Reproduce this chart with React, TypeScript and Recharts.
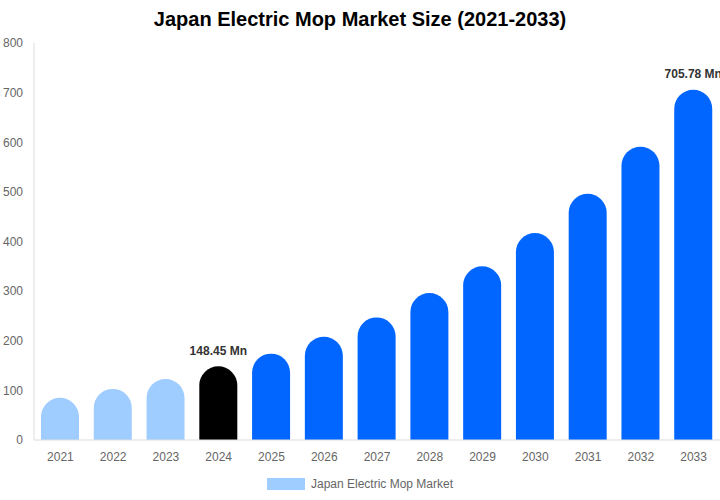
import React from "react";
import { BarChart, Bar, XAxis, YAxis, Cell, LabelList, Legend } from "recharts";

const years = ["2021","2022","2023","2024","2025","2026","2027","2028","2029","2030","2031","2032","2033"];
const values = [85, 103, 123, 148.45, 174, 208, 247, 296, 350, 417, 496, 591, 705.78];
const barColors = ["#A0CDFF","#A0CDFF","#A0CDFF","#000000","#0066FF","#0066FF","#0066FF","#0066FF","#0066FF","#0066FF","#0066FF","#0066FF","#0066FF"];
const labelled = [3, 12];
const yTicks = [0, 100, 200, 300, 400, 500, 600, 700, 800];
const seriesName = "Japan Electric Mop Market";
const title = "Japan Electric Mop Market Size (2021-2033)";

const data = years.map((y, i) => ({ year: y, value: values[i] }));

const TopLabel = (props: any) => {
  const { x, y, width, index, value } = props;
  if (!labelled.includes(index)) return null;
  return (
    <text x={x + width / 2} y={y - 15} textAnchor="middle" dominantBaseline="middle"
      fill="#333" fontSize={12} fontWeight="bold" fontFamily="Liberation Sans, Arial, sans-serif">
      {`${value} Mn`}
    </text>
  );
};

const LegendContent = () => (
  <div style={{ display: "flex", justifyContent: "center", alignItems: "center", fontFamily: "Liberation Sans, Arial, sans-serif", fontSize: 12, color: "#666" }}>
    <span style={{ display: "inline-block", width: 38, height: 12, background: "#A0CDFF", marginRight: 6 }} />
    <span>{seriesName}</span>
  </div>
);

export default function App() {
  return (
    <div style={{ position: "absolute", left: 0, top: 0, width: 720, height: 500, background: "#fff", fontFamily: "Liberation Sans, Arial, sans-serif" }}>
      <div style={{ position: "absolute", left: 0, top: 8, width: 720, textAlign: "center", fontSize: 20, fontWeight: "bold", color: "#000" }}>
        {title}
      </div>
      <BarChart width={720} height={500} data={data} margin={{ top: 43, right: 0, left: 0, bottom: 9 }} barCategoryGap="28%">
        <XAxis dataKey="year" tickLine={false} axisLine={{ stroke: "#ddd" }} tick={{ fill: "#666", fontSize: 12 }} height={37} tickMargin={6} />
        <YAxis domain={[0, 800]} ticks={yTicks} tickLine={false} axisLine={{ stroke: "#ddd" }} tick={{ fill: "#666", fontSize: 12 }} width={34} tickMargin={5} interval={0} />
        <Legend verticalAlign="bottom" content={<LegendContent />} wrapperStyle={{ paddingTop: 0 }} />
        <Bar dataKey="value" name={seriesName} barSize={38} radius={[19, 19, 0, 0]} isAnimationActive={false}>
          {data.map((d, i) => (
            <Cell key={d.year} fill={barColors[i]} />
          ))}
          <LabelList dataKey="value" content={<TopLabel />} />
        </Bar>
      </BarChart>
    </div>
  );
}
